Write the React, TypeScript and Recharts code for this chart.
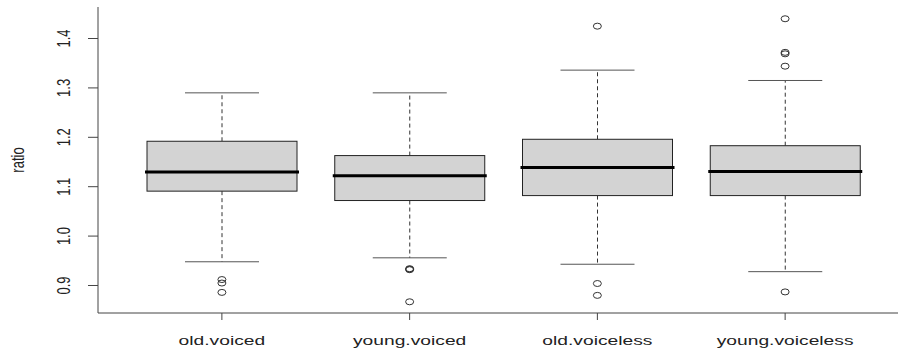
import React from "react";
import { Bar, ComposedChart, Scatter, XAxis, YAxis } from "recharts";

const categories = ["old.voiced", "young.voiced", "old.voiceless", "young.voiceless"];
const lowerWhisker = [0.948, 0.956, 0.943, 0.928];
const firstQuartile = [1.091, 1.072, 1.082, 1.082];
const medians = [1.13, 1.122, 1.139, 1.131];
const thirdQuartile = [1.192, 1.163, 1.196, 1.183];
const upperWhisker = [1.29, 1.29, 1.336, 1.315];
const outliers = [
  [0.912, 0.905, 0.886],
  [0.934, 0.933, 0.932, 0.867],
  [1.425, 0.904, 0.88],
  [1.44, 1.372, 1.369, 1.344, 0.887],
];
const yTicks = [0.9, 1.0, 1.1, 1.2, 1.3, 1.4];
const yDomain = [0.8443, 1.4638];
const xDomain = [0.34, 4.66];

const boxData = categories.map((name, i) => ({
  name,
  lower: [lowerWhisker[i], firstQuartile[i]],
  box: [firstQuartile[i], thirdQuartile[i]],
  median: [firstQuartile[i], medians[i]],
  upper: [thirdQuartile[i], upperWhisker[i]],
}));

const outlierData = outliers.flatMap((vals, i) =>
  vals.map((value) => ({ pos: i + 1, value }))
);

const FONT = "'Liberation Sans', Arial, sans-serif";
const STRETCH = 1.48;
const BOX_W = 150;
const CAP_W = 74;
const AXIS = "#444";
const TEXT = "#222";

const UpperWhisker = (props: any) => {
  const { x, y, width, height } = props;
  const cx = x + width / 2;
  const top = Math.min(y, y + height);
  const bottom = Math.max(y, y + height);
  return (
    <g>
      <line x1={cx} x2={cx} y1={bottom} y2={top} stroke="#333" strokeDasharray="4 3" />
      <line x1={cx - CAP_W / 2} x2={cx + CAP_W / 2} y1={top} y2={top} stroke="#555" />
    </g>
  );
};

const LowerWhisker = (props: any) => {
  const { x, y, width, height } = props;
  const cx = x + width / 2;
  const top = Math.min(y, y + height);
  const bottom = Math.max(y, y + height);
  return (
    <g>
      <line x1={cx} x2={cx} y1={top} y2={bottom} stroke="#333" strokeDasharray="4 3" />
      <line x1={cx - CAP_W / 2} x2={cx + CAP_W / 2} y1={bottom} y2={bottom} stroke="#555" />
    </g>
  );
};

const BoxShape = (props: any) => {
  const { x, y, width, height } = props;
  const cx = x + width / 2;
  const top = Math.min(y, y + height);
  return (
    <rect
      x={cx - BOX_W / 2}
      y={top}
      width={BOX_W}
      height={Math.abs(height)}
      fill="#D3D3D3"
      stroke="#222"
      strokeWidth={1}
    />
  );
};

const MedianShape = (props: any) => {
  const { x, y, width, height } = props;
  const cx = x + width / 2;
  const top = Math.min(y, y + height);
  return (
    <line x1={cx - BOX_W / 2 - 2} x2={cx + BOX_W / 2 + 2} y1={top} y2={top} stroke="#000" strokeWidth={3} />
  );
};

const OutlierShape = (props: any) => (
  <ellipse cx={props.cx} cy={props.cy} rx={4} ry={3} fill="none" stroke="#333" strokeWidth={1} />
);

const YTick = (props: any) => {
  const { x, y, payload } = props;
  return (
    <text
      transform={`translate(${x},${y}) scale(${STRETCH},1) rotate(-90)`}
      textAnchor="middle"
      fontFamily={FONT}
      fontSize={13}
      fill={TEXT}
    >
      {Number(payload.value).toFixed(1)}
    </text>
  );
};

const XTick = (props: any) => {
  const { x, y, payload } = props;
  return (
    <text
      transform={`translate(${x},${y}) scale(${STRETCH},1)`}
      textAnchor="middle"
      fontFamily={FONT}
      fontSize={13}
      fill={TEXT}
    >
      {payload.value}
    </text>
  );
};

const RatioLabel = (props: any) => {
  const { viewBox } = props;
  const cy = viewBox.y + viewBox.height / 2;
  return (
    <text
      transform={`translate(24,${cy}) scale(${STRETCH},1) rotate(-90)`}
      textAnchor="middle"
      fontFamily={FONT}
      fontSize={13}
      fill={TEXT}
    >
      ratio
    </text>
  );
};

export default function App() {
  return (
    <div
      style={{
        position: "absolute",
        left: 0,
        top: 0,
        width: 898,
        height: 349,
        overflow: "hidden",
        background: "#fff",
      }}
    >
      <ComposedChart
        width={912}
        height={349}
        data={boxData}
        margin={{ top: 7, right: 3, bottom: 0, left: 0 }}
        barSize={BOX_W}
        barGap={-BOX_W}
      >
        <XAxis
          xAxisId="cat"
          dataKey="name"
          type="category"
          padding={{ left: 30, right: 30 }}
          height={36}
          tickSize={7}
          tickMargin={25}
          tick={<XTick />}
          tickLine={{ stroke: AXIS }}
          axisLine={{ stroke: AXIS }}
          interval={0}
        />
        <XAxis
          xAxisId="num"
          dataKey="pos"
          type="number"
          orientation="top"
          domain={xDomain}
          height={0}
          tick={false}
          tickLine={false}
          axisLine={{ stroke: AXIS }}
          allowDataOverflow
        />
        <YAxis
          type="number"
          domain={yDomain}
          ticks={yTicks}
          width={98}
          tickSize={10}
          tickMargin={18}
          tick={<YTick />}
          tickLine={{ stroke: AXIS }}
          axisLine={{ stroke: AXIS }}
          allowDataOverflow
          label={{ value: "ratio", content: <RatioLabel /> }}
        />
        <Bar xAxisId="cat" dataKey="upper" shape={<UpperWhisker />} isAnimationActive={false} />
        <Bar xAxisId="cat" dataKey="lower" shape={<LowerWhisker />} isAnimationActive={false} />
        <Bar xAxisId="cat" dataKey="box" shape={<BoxShape />} isAnimationActive={false} />
        <Bar xAxisId="cat" dataKey="median" shape={<MedianShape />} isAnimationActive={false} />
        <Scatter
          xAxisId="num"
          data={outlierData}
          dataKey="value"
          shape={<OutlierShape />}
          isAnimationActive={false}
        />
      </ComposedChart>
    </div>
  );
}
